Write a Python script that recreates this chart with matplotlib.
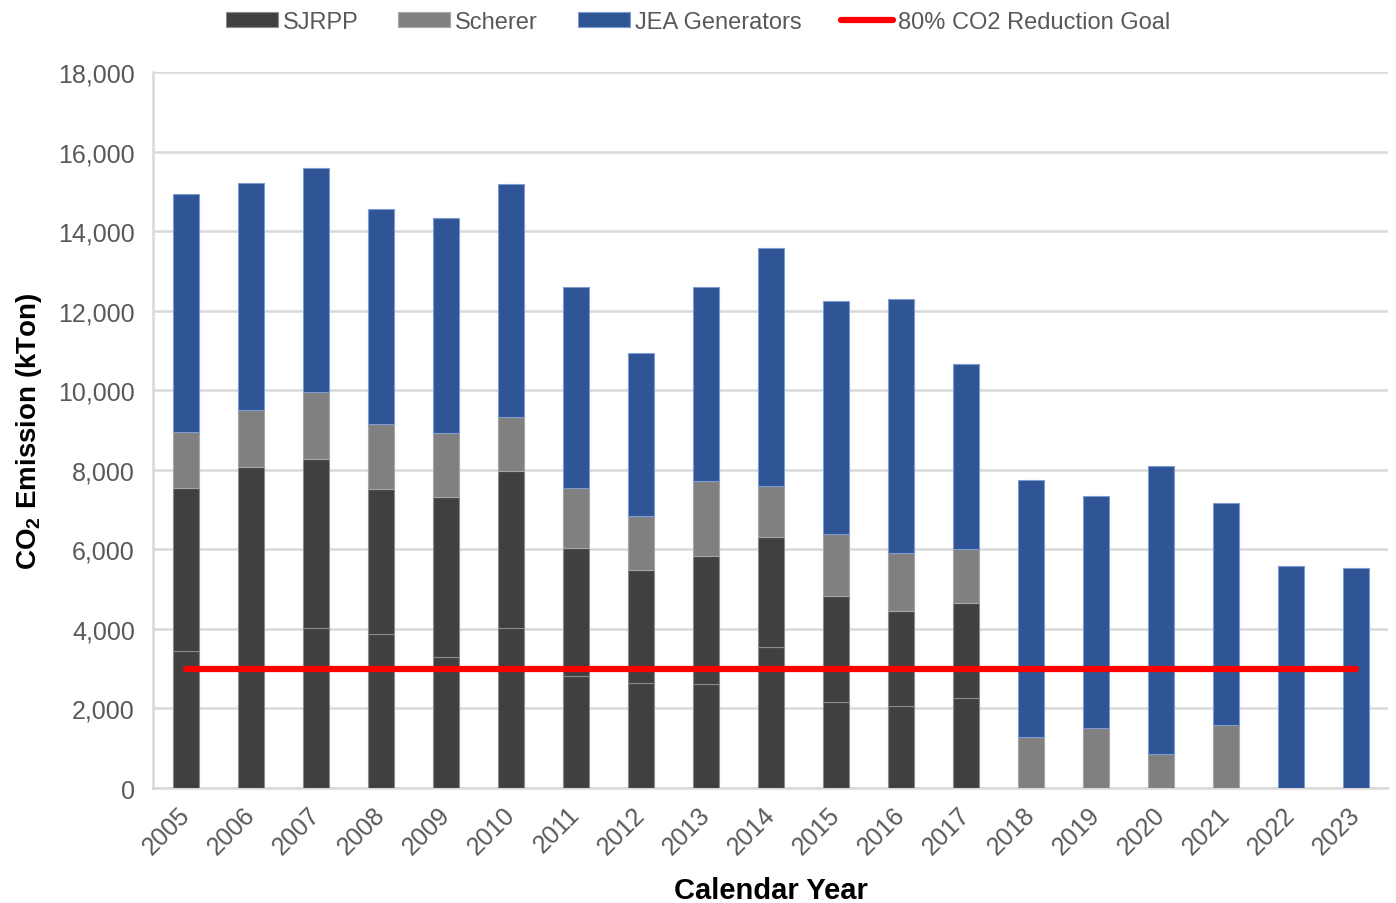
import matplotlib.pyplot as plt
import matplotlib.transforms as mtransforms
import numpy as np

years = [str(y) for y in range(2005, 2024)]
# SJRPP shown as two stacked units of the same colour
sjrpp_lower = [3440, 3000, 4020, 3870, 3290, 4020, 2820, 2640, 2610, 3540, 2160, 2060, 2260, 0, 0, 0, 0, 0, 0]
sjrpp_total = [7540, 8070, 8270, 7520, 7320, 7970, 6030, 5480, 5830, 6310, 4830, 4450, 4650, 0, 0, 0, 0, 0, 0]
scherer = [1410, 1430, 1680, 1630, 1600, 1360, 1510, 1360, 1890, 1280, 1560, 1460, 1360, 1280, 1510, 850, 1580, 0, 0]
totals = [14930, 15210, 15590, 14560, 14330, 15180, 12590, 10940, 12590, 13570, 12240, 12290, 10660, 7740, 7340, 8090, 7160, 5580, 5530]
goal = 3000

sjrpp_lower = np.array(sjrpp_lower)
sjrpp_upper = np.array(sjrpp_total) - sjrpp_lower
scherer = np.array(scherer)
jea = np.array(totals) - np.array(sjrpp_total) - scherer

plt.rcParams['font.family'] = ['Liberation Sans', 'DejaVu Sans']
plt.rcParams['mathtext.fontset'] = 'custom'
plt.rcParams['mathtext.bf'] = 'Liberation Sans:bold'

fig = plt.figure(figsize=(13.96, 9.04), dpi=100)
ax = fig.add_axes([0.1096, 0.1272, 0.8847, 0.792])

x = np.arange(len(years))
w = 0.4
edge = dict(edgecolor='#8c8c8c', linewidth=0.8)
b1 = ax.bar(x, sjrpp_lower, w, color='#404040', label='SJRPP', zorder=3, **edge)
ax.bar(x, sjrpp_upper, w, bottom=sjrpp_lower, color='#404040', zorder=3, **edge)
base = sjrpp_lower + sjrpp_upper
b2 = ax.bar(x, scherer, w, bottom=base, color='#808080', label='Scherer', zorder=3,
            edgecolor='#a6a6a6', linewidth=0.8)
b3 = ax.bar(x, jea, w, bottom=base + scherer, color='#2F5597', label='JEA Generators', zorder=3,
            edgecolor='#7f9ccf', linewidth=0.8)
l1, = ax.plot(x, [goal] * len(x), color='#ff0000', linewidth=4.5, solid_capstyle='round',
              label='80% CO2 Reduction Goal', zorder=4)

ax.set_xlim(-0.5, len(years) - 0.5)
ax.set_ylim(0, 18000)
ax.set_yticks(range(0, 18001, 2000))
ax.set_yticklabels([f'{v:,}' for v in range(0, 18001, 2000)])
ax.set_xticks(x)
ax.set_xticklabels(years, rotation=45, ha='right', va='top', rotation_mode='anchor')
ax.tick_params(axis='both', length=0, labelsize=18, colors='#595959', pad=13)
ax.tick_params(axis='x', pad=10)
shift = mtransforms.ScaledTranslation(-8 / 100, 0, fig.dpi_scale_trans)
for lab in ax.get_xticklabels():
    lab.set_transform(lab.get_transform() + shift)
ax.grid(axis='y', color='#d9d9d9', linewidth=1.8, zorder=0)
for s in ['top', 'right']:
    ax.spines[s].set_visible(False)
for s in ['left', 'bottom']:
    ax.spines[s].set_color('#d9d9d9')
    ax.spines[s].set_linewidth(1.8)

ax.set_ylabel(r'$\mathbf{CO_2}$ Emission (kTon)', fontsize=20, fontweight='bold', labelpad=10)
ax.set_xlabel('Calendar Year', fontsize=21, fontweight='bold', labelpad=13)

leg = fig.legend([b1, b2, b3, l1], ['SJRPP', 'Scherer', 'JEA Generators', '80% CO2 Reduction Goal'],
                 loc='upper center', bbox_to_anchor=(0.5, 1.01), ncol=4, frameon=False,
                 handlelength=2.2, handleheight=0.6, handletextpad=0.2, columnspacing=1.7,
                 prop={'size': 17})
for t in leg.get_texts():
    t.set_color('#595959')

fig.savefig('out.png', dpi=100)
